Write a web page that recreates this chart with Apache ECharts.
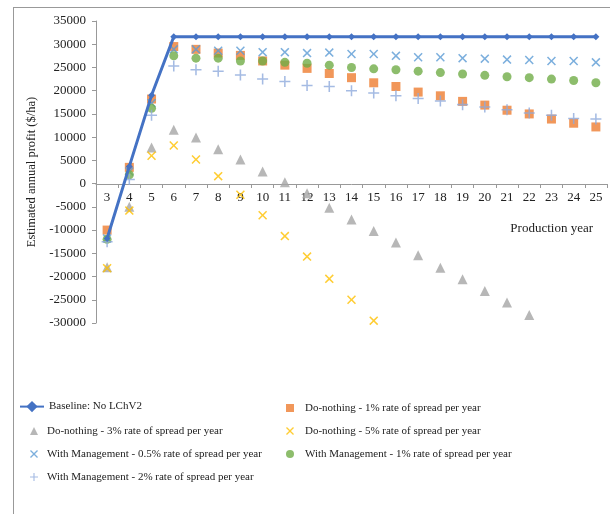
<!DOCTYPE html>
<html>
<head>
<meta charset="utf-8">
<script src="https://cdn.jsdelivr.net/npm/echarts@6/dist/echarts.min.js"></script>
<style>
  html, body { margin: 0; padding: 0; background: #fff; }
  #main { width: 610px; height: 514px; }
  #frame { position: absolute; left: 13px; top: 7px; right: 0; bottom: 0;
           border-left: 1px solid #999; border-top: 1px solid #999; pointer-events: none; }
</style>
</head>
<body>
<div id="main"></div>
<div id="frame"></div>
<script>
var years = ['3','4','5','6','7','8','9','10','11','12','13','14','15','16','17','18','19','20','21','22','23','24','25'];

var baseline = [-11800, 3700, 19000, 31600, 31600, 31600, 31600, 31600, 31600, 31600, 31600, 31600,
    31600, 31600, 31600, 31600, 31600, 31600, 31600, 31600, 31600, 31600, 31600];
var doNothing1 = [-10000, 3500, 18200, 29500, 28900, 28100, 27600, 26400, 25500, 24800, 23700, 22800,
    21700, 20900, 19700, 18900, 17700, 16900, 15800, 15000, 13900, 13000, 12200];
var doNothing3 = [-18000, -5000, 7800, 11600, 9900, 7400, 5200, 2600, 300, -2100, -5200, -7700,
    -10200, -12700, -15400, -18100, -20600, -23100, -25600, -28300, null, null, null];
var doNothing5 = [-18200, -5800, 6000, 8200, 5200, 1600, -2400, -6800, -11300, -15700, -20500, -25000,
    -29500, null, null, null, null, null, null, null, null, null, null];
var mgmt05 = [-11800, 2600, 17300, 28900, 28900, 28600, 28600, 28300, 28300, 28100, 28200, 27900,
    27900, 27500, 27200, 27200, 27000, 26900, 26700, 26600, 26400, 26400, 26100];
var mgmt1 = [-12000, 1900, 16200, 27500, 27000, 27000, 26400, 26400, 26100, 25900, 25500, 25000,
    24700, 24500, 24200, 23900, 23600, 23300, 23000, 22800, 22500, 22200, 21700];
var mgmt2 = [-12500, 900, 14700, 25300, 24500, 24200, 23400, 22500, 22000, 21100, 20900, 20000,
    19500, 18900, 18300, 17800, 17000, 16500, 15900, 15200, 14700, 14000, 13900];

var names = [
    'Baseline: No LChV2',
    'Do-nothing - 1% rate of spread per year',
    'Do-nothing - 3% rate of spread per year',
    'Do-nothing - 5% rate of spread per year',
    'With Management - 0.5% rate of spread per year',
    'With Management - 1% rate of spread per year',
    'With Management - 2% rate of spread per year'
];

var xPath = 'path://M1.2,0 L5,3.8 L8.8,0 L10,1.2 L6.2,5 L10,8.8 L8.8,10 L5,6.2 L1.2,10 L0,8.8 L3.8,5 L0,1.2 Z';
var plusPath = 'path://M4.3,0 H5.7 V4.3 H10 V5.7 H5.7 V10 H4.3 V5.7 H0 V4.3 H4.3 Z';
var serif = '"Liberation Serif", "Times New Roman", serif';
var legendText = { fontFamily: serif, fontSize: 11, color: '#222', lineHeight: 14 };

function scatter(name, data, color, symbol, size) {
    return {
        name: name,
        type: 'scatter',
        data: data,
        symbol: symbol,
        symbolSize: size,
        itemStyle: { color: color },
        z: 3
    };
}

var chart = echarts.init(document.getElementById('main'));
var option = {
    animation: false,
    textStyle: { fontFamily: serif, color: '#222' },
    grid: { left: 96, right: 3, top: 21, bottom: 191 },
    title: {
        text: 'Production year',
        right: 12, top: 217,
        textStyle: { fontFamily: serif, fontSize: 13, fontWeight: 'normal', color: '#222' }
    },
    legend: [{
        left: 19, top: 401, padding: 0,
        itemWidth: 24, itemHeight: 14,
        textStyle: { fontFamily: serif, fontSize: 11, color: '#222' },
        data: [names[0]]
    }, {
        orient: 'vertical',
        left: 30, top: 424, padding: 0,
        itemGap: 9, itemWidth: 8, itemHeight: 8,
        textStyle: Object.assign({ padding: [0, 0, 0, 4] }, legendText),
        data: [names[2], names[4], names[6]]
    }, {
        orient: 'vertical',
        left: 286, top: 401, padding: 0,
        itemGap: 9, itemWidth: 8, itemHeight: 8,
        textStyle: Object.assign({ padding: [0, 0, 0, 6] }, legendText),
        data: [names[1], names[3], names[5]]
    }],
    xAxis: {
        type: 'category',
        data: years,
        offset: -139,
        axisLine: { onZero: false, lineStyle: { color: '#999', width: 1 } },
        axisTick: { show: true, length: 4, lineStyle: { color: '#999' } },
        axisLabel: { fontFamily: serif, fontSize: 13, color: '#222', margin: 7, interval: 0 }
    },
    yAxis: {
        type: 'value',
        min: -30000, max: 35000, interval: 5000,
        name: 'Estimated annual profit ($/ha)',
        nameLocation: 'middle',
        nameGap: 51,
        nameTextStyle: { fontFamily: serif, fontSize: 12.5, color: '#222' },
        axisLine: { show: true, lineStyle: { color: '#999' } },
        axisTick: { show: true, length: 4, lineStyle: { color: '#999' } },
        axisLabel: {
            fontFamily: serif, fontSize: 13, color: '#222', margin: 10,
            formatter: function (v) { return String(v); }
        },
        splitLine: { show: false }
    },
    series: [
        {
            name: names[0],
            type: 'line',
            data: baseline,
            symbol: 'diamond',
            symbolSize: 7,
            showSymbol: true,
            lineStyle: { color: '#4472C4', width: 3 },
            itemStyle: { color: '#4472C4' },
            z: 4
        },
        scatter(names[1], doNothing1, '#ED7D31', 'rect', 9),
        scatter(names[2], doNothing3, '#A5A5A5', 'triangle', 10),
        scatter(names[3], doNothing5, '#FFC000', xPath, 9),
        scatter(names[4], mgmt05, '#5B9BD5', xPath, 9),
        scatter(names[5], mgmt1, '#70AD47', 'circle', 9),
        scatter(names[6], mgmt2, '#8FAADC', plusPath, 11)
    ]
};
chart.setOption(option);
</script>
</body>
</html>
